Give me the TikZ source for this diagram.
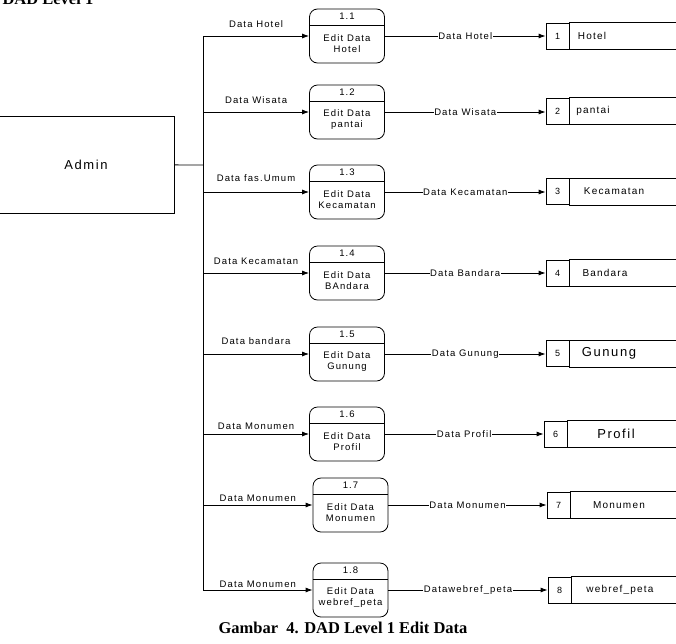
\documentclass[tikz,border=0pt]{standalone}
\usepackage{fontspec}
\setmainfont{Liberation Serif}
\newfontfamily\dfdfont[LetterSpace=12]{Liberation Sans}
\usetikzlibrary{arrows.meta,positioning,calc}

\begin{document}
\begin{tikzpicture}[x=1pt, y=-1pt, line width=0.8pt,
    proc/.style={draw, rounded corners=8pt, minimum width=75pt, minimum height=54pt, inner sep=0pt},
    ptxt/.style={font=\dfdfont\fontsize{9.5}{11}\selectfont, align=center, inner sep=0pt},
    numcell/.style={draw, minimum width=23pt, minimum height=26pt, inner sep=0pt, font=\dfdfont\fontsize{9}{11}\selectfont},
    stxt/.style={font=\dfdfont\fontsize{10}{12}\selectfont, inner sep=0pt},
    bigtxt/.style={font=\dfdfont\fontsize{13}{15}\selectfont, inner sep=0pt},
    flow/.style={-{Latex[length=7pt,width=5pt]}},
    lbl/.style={font=\dfdfont\fontsize{9.5}{11}\selectfont, fill=white, inner sep=0.5pt},
    inlbl/.style={font=\dfdfont\fontsize{9.5}{11}\selectfont, inner sep=0pt, anchor=base, yshift=#1}]
    \path[use as bounding box, clip] (0,0) rectangle (676,643);

    % titles
    \node[anchor=base east, font=\bfseries\fontsize{16.5}{18}\selectfont] (title) at (97,4) {DAD Level 1};
    \node[font=\bfseries\fontsize{16.5}{18}\selectfont] (caption) at (343,628) {Gambar\ \ 4. DAD Level 1 Edit Data};

    % external entity
    \node[draw, minimum width=176pt, minimum height=97pt, bigtxt] (admin) at (86,164.5) {Admin};
    \coordinate (bus) at (203,165);
    \coordinate (b1) at (203,36);
    \coordinate (b2) at (203,112);
    \coordinate (b3) at (203,192);
    \coordinate (b4) at (203,273);
    \coordinate (b5) at (203,354);
    \coordinate (b6) at (203,434);
    \coordinate (b7) at (203,505);
    \coordinate (b8) at (203,590);
    \draw (admin) -- (bus);
    \draw (b1) -- (b8);

    % processes
    \node[proc] (p1) at (347,36) {};
    \node[proc] (p2) at (347,112) {};
    \node[proc] (p3) at (347,192) {};
    \node[proc] (p4) at (347,273) {};
    \node[proc] (p5) at (347,354) {};
    \node[proc] (p6) at (347,434) {};
    \node[proc] (p7) at (350.5,505) {};
    \node[proc] (p8) at (350.5,590) {};
    \foreach \p in {p1,p2,p3,p4,p5,p6,p7,p8}
        \draw ([yshift=-16.5pt]\p.north west) -- ([yshift=-16.5pt]\p.north east);

    \node[ptxt] (p1id) at ([yshift=-8pt]p1.north) {1.1};
    \node[ptxt] (p2id) at ([yshift=-8pt]p2.north) {1.2};
    \node[ptxt] (p3id) at ([yshift=-8pt]p3.north) {1.3};
    \node[ptxt] (p4id) at ([yshift=-8pt]p4.north) {1.4};
    \node[ptxt] (p5id) at ([yshift=-8pt]p5.north) {1.5};
    \node[ptxt] (p6id) at ([yshift=-8pt]p6.north) {1.6};
    \node[ptxt] (p7id) at ([yshift=-8pt]p7.north) {1.7};
    \node[ptxt] (p8id) at ([yshift=-8pt]p8.north) {1.8};

    \node[ptxt] (p1tx) at ([yshift=-8pt]p1.center) {Edit Data\\Hotel};
    \node[ptxt] (p2tx) at ([yshift=-8pt]p2.center) {Edit Data\\pantai};
    \node[ptxt] (p3tx) at ([yshift=-8pt]p3.center) {Edit Data\\Kecamatan};
    \node[ptxt] (p4tx) at ([yshift=-8pt]p4.center) {Edit Data\\BAndara};
    \node[ptxt] (p5tx) at ([yshift=-8pt]p5.center) {Edit Data\\Gunung};
    \node[ptxt] (p6tx) at ([yshift=-8pt]p6.center) {Edit Data\\Profil};
    \node[ptxt] (p7tx) at ([yshift=-8pt]p7.center) {Edit Data\\Monumen};
    \node[ptxt] (p8tx) at ([yshift=-8pt]p8.center) {Edit Data\\webref\_peta};

    % data stores
    \node[numcell] (s1) at (557.5,36) {1};
    \node[numcell] (s2) at (557.5,111) {2};
    \node[numcell] (s3) at (557.5,191.5) {3};
    \node[numcell] (s4) at (557.5,273) {4};
    \node[numcell] (s5) at (557.5,353.5) {5};
    \node[numcell] (s6) at (555.5,434) {6};
    \node[numcell] (s7) at (558.5,505) {7};
    \node[numcell] (s8) at (559.5,590) {8};
    \foreach \s in {s1,s2,s3,s4,s5,s6,s7,s8}
        \draw (\s.north east) -- ++(140,0) (\s.south east) -- ++(140,0);

    \node[stxt] (s1tx) at (592,36) {Hotel};
    \node[stxt] (s2tx) at (593,111) {pantai};
    \node[stxt] (s3tx) at (614,191.5) {Kecamatan};
    \node[stxt] (s4tx) at (605,273) {Bandara};
    \node[bigtxt] (s5tx) at (609,353.5) {Gunung};
    \node[bigtxt] (s6tx) at (616,434) {Profil};
    \node[stxt] (s7tx) at (619,505) {Monumen};
    \node[stxt] (s8tx) at (620,590) {webref\_peta};

    % flows in
    \draw[flow] (b1) -- node[inlbl=9pt] {Data Hotel} (p1);
    \draw[flow] (b2) -- node[inlbl=9pt] {Data Wisata} (p2);
    \draw[flow] (b3) -- node[inlbl=11pt] {Data fas.Umum} (p3);
    \draw[flow] (b4) -- node[inlbl=9pt] {Data Kecamatan} (p4);
    \draw[flow] (b5) -- node[inlbl=10pt] {Data bandara} (p5);
    \draw[flow] (b6) -- node[inlbl=5pt] {Data Monumen} (p6);
    \draw[flow] (b7) -- node[inlbl=4pt] {Data Monumen} (p7);
    \draw[flow] (b8) -- node[inlbl=3pt] {Data Monumen} (p8);

    % flows out
    \draw[flow] (p1) -- node[lbl] {Data Hotel} (s1);
    \draw[flow] (p2) -- node[lbl] {Data Wisata} (p2 -| s2.west);
    \draw[flow] (p3) -- node[lbl] {Data Kecamatan} (p3 -| s3.west);
    \draw[flow] (p4) -- node[lbl] {Data Bandara} (s4);
    \draw[flow] (p5) -- node[lbl] {Data Gunung} (p5 -| s5.west);
    \draw[flow] (p6) -- node[lbl] {Data Profil} (s6);
    \draw[flow] (p7) -- node[lbl] {Data Monumen} (s7);
    \draw[flow] (p8) -- node[lbl] {Datawebref\_peta} (s8);
\end{tikzpicture}
\end{document}
